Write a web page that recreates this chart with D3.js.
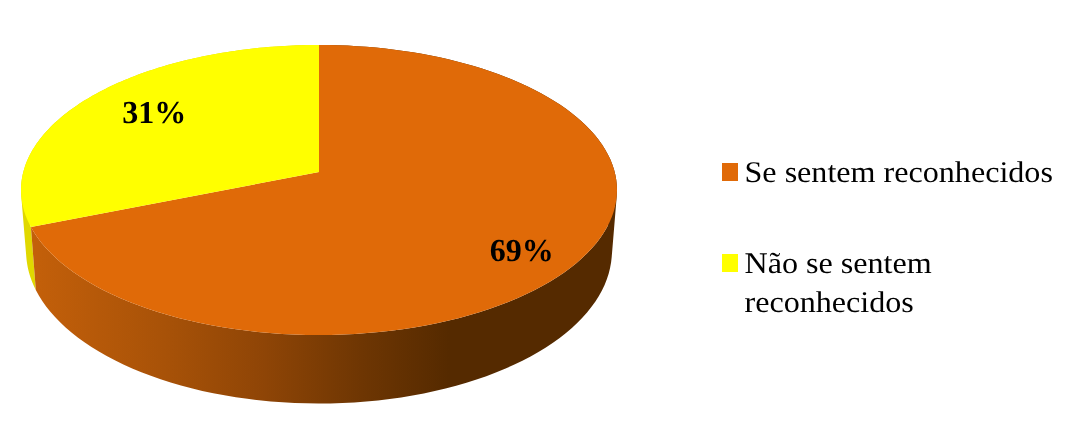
<!DOCTYPE html>
<html>
<head>
<meta charset="utf-8">
<script src="https://cdn.jsdelivr.net/npm/d3@7"></script>
<style>
  html, body { margin: 0; padding: 0; background: #fff; }
  svg { display: block; }
  text { font-family: "Liberation Serif", serif; fill: #000; text-rendering: geometricPrecision; }
</style>
</head>
<body>
<div id="chart"></div>
<script>
const categories = ["Se sentem reconhecidos", "Não se sentem reconhecidos"];
const values = [69, 31];
const topColors = ["#e06a08", "#ffff00"];
const legendLines = [["Se sentem reconhecidos"], ["Não se sentem", "reconhecidos"]];

const width = 1067, height = 424;

// the pie is tilted in perspective, so the centre is above the middle of the ellipse
const cx = 319, cy = 172;
const radiusX = 295.7, radiusY = 142.8;
const tilt = 0.124;       // how much the far side shrinks
const thickness = 60;
const baseShrink = 0.983;

function project(angle, r, drop, shrink) {
  const u = Math.sin(angle) * r, v = Math.cos(angle) * r;
  const w = 1 + tilt * v;
  return [cx + radiusX * shrink * u / w, cy + (-radiusY * v + drop) / w];
}

const svg = d3.select("#chart").append("svg")
  .attr("width", width)
  .attr("height", height);

const defs = svg.append("defs");
const grad = defs.append("linearGradient")
  .attr("id", "wall")
  .attr("gradientUnits", "userSpaceOnUse")
  .attr("x1", 30).attr("x2", 612).attr("y1", 0).attr("y2", 0);
grad.append("stop").attr("offset", "0").attr("stop-color", "#c4600a");
grad.append("stop").attr("offset", "0.23").attr("stop-color", "#a85208");
grad.append("stop").attr("offset", "0.4").attr("stop-color", "#8f4506");
grad.append("stop").attr("offset", "0.57").attr("stop-color", "#6e3603");
grad.append("stop").attr("offset", "0.72").attr("stop-color", "#552a00");
grad.append("stop").attr("offset", "1").attr("stop-color", "#552a00");

const soft = defs.append("filter").attr("id", "soft")
  .attr("color-interpolation-filters", "sRGB");
soft.append("feGaussianBlur").attr("stdDeviation", 0.4);

const slices = d3.pie().sort(null).value(d => d)(values);
const line = d3.line();

function arcPoints(s, drop, shrink) {
  const n = 120;
  return d3.range(n + 1).map(i => {
    const a = s.startAngle + (s.endAngle - s.startAngle) * i / n;
    return project(a, 1, drop, shrink);
  });
}

// wall as a strip of small quads, so the outline runs straight down the sides
function wallPath(s) {
  const up = arcPoints(s, 0, 1), down = arcPoints(s, thickness, baseShrink);
  let d = "";
  for (let i = 0; i < up.length - 1; i++) {
    const quad = [up[i], up[i + 1], down[i + 1], down[i]];
    if (d3.polygonArea(quad) < 0) quad.reverse();
    d += line(quad) + "Z";
  }
  return d;
}

const pie3d = svg.append("g").attr("filter", "url(#soft)");

// side walls first, yellow under orange
pie3d.selectAll(".wall")
  .data(slices.slice().reverse())
  .enter().append("path")
  .attr("class", "wall")
  .attr("d", wallPath)
  .attr("fill", s => s.index == 0 ? "url(#wall)" : "#e0d800");

// top faces
pie3d.selectAll(".top")
  .data(slices)
  .enter().append("path")
  .attr("class", "top")
  .attr("d", s => line([[cx, cy]].concat(arcPoints(s, 0, 1))) + "Z")
  .attr("fill", s => topColors[s.index]);

// percent labels
const labelRadius = [0.8, 0.72];
const labelShift = [[-4.5, 12], [3, -3]];
svg.selectAll(".pct")
  .data(slices)
  .enter().append("text")
  .attr("class", "pct")
  .attr("transform", s => {
    const p = project((s.startAngle + s.endAngle) / 2, labelRadius[s.index], 0, 1);
    const shift = labelShift[s.index];
    return `translate(${p[0] + shift[0]},${p[1] + 9 + shift[1]})`;
  })
  .attr("text-anchor", "middle")
  .attr("font-size", 32)
  .attr("font-weight", "bold")
  .attr("filter", "url(#soft)")
  .text(s => s.value + "%");

// legend, the source image is a bit stretched sideways
const legendY = d3.scalePoint().domain(categories).range([163, 254]);
const legend = svg.selectAll(".legend")
  .data(categories)
  .enter().append("g")
  .attr("class", "legend")
  .attr("transform", d => `translate(722,${legendY(d)})`);

legend.append("rect")
  .attr("width", 16)
  .attr("height", 18)
  .attr("fill", (d, i) => topColors[i]);

legend.each(function(d, i) {
  d3.select(this).selectAll("text")
    .data(legendLines[i])
    .enter().append("text")
    .attr("transform", (t, j) => `translate(22.5,${19 + j * 39}) scale(1.07,1)`)
    .attr("font-size", 30)
    .attr("filter", "url(#soft)")
    .text(t => t);
});
</script>
</body>
</html>
